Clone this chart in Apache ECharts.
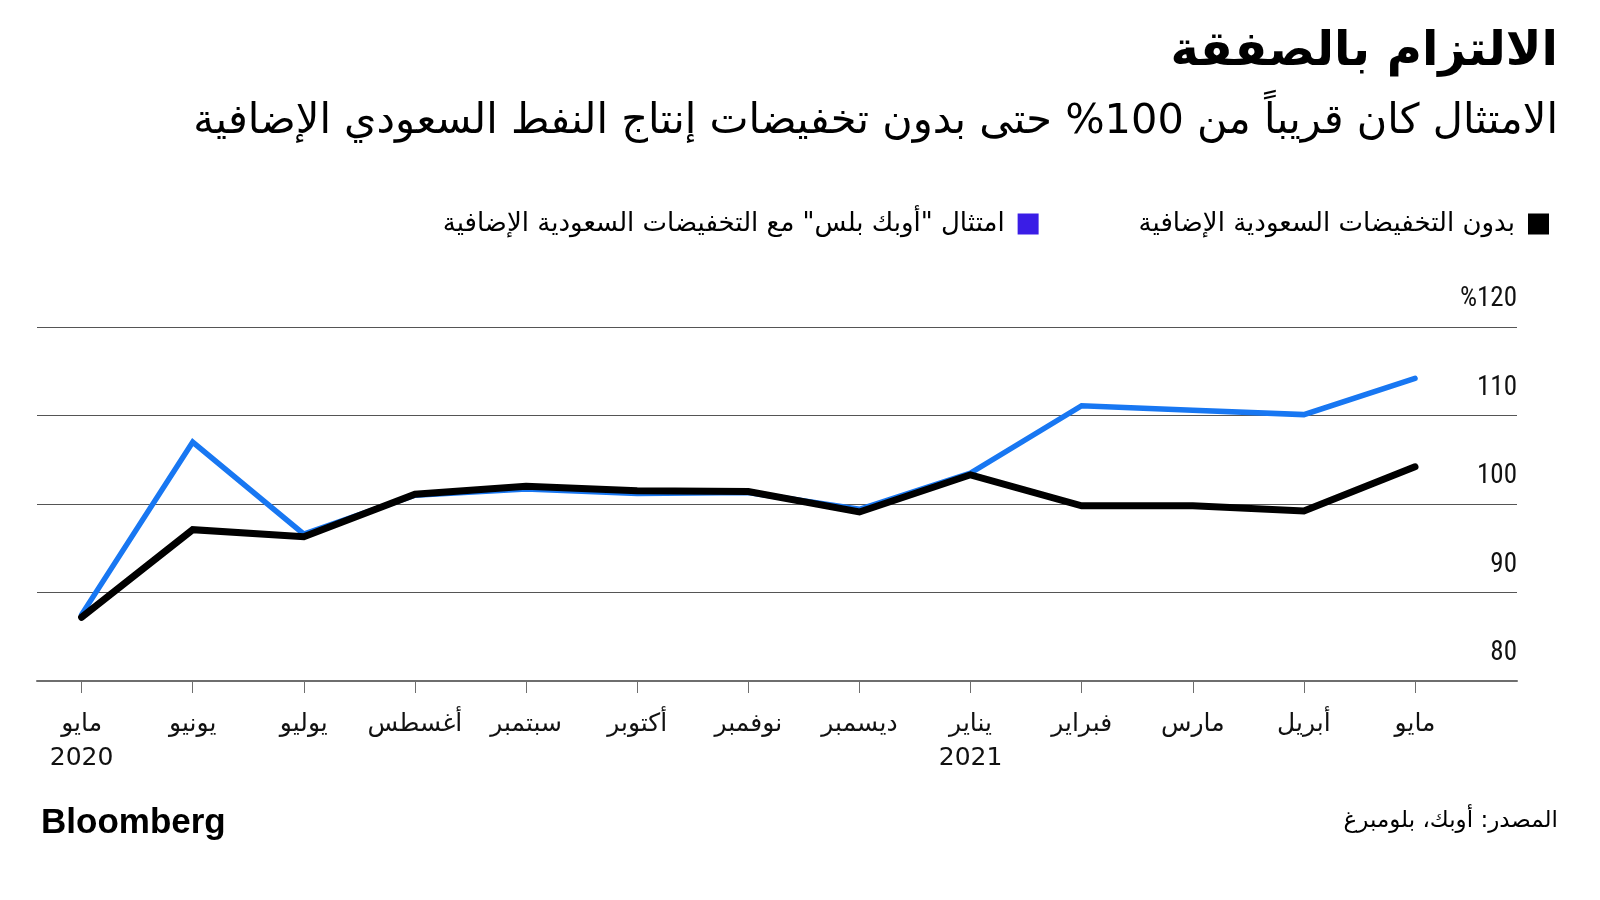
<!DOCTYPE html>
<html>
<head>
<meta charset="utf-8">
<script src="https://cdn.jsdelivr.net/npm/echarts@6/dist/echarts.min.js"></script>
<style>
  html, body { margin: 0; padding: 0; background: #fff; }
  #chart { width: 1600px; height: 900px; direction: rtl; }
</style>
</head>
<body>
<div id="chart"></div>
<script>
// ---- data ----
const months = ['مايو\n2020', 'يونيو', 'يوليو', 'أغسطس', 'سبتمبر', 'أكتوبر', 'نوفمبر', 'ديسمبر', 'يناير\n2021', 'فبراير', 'مارس', 'أبريل', 'مايو'];
const withoutSaudi = [87.2, 97.1, 96.3, 101.1, 102.0, 101.5, 101.4, 99.1, 103.3, 99.8, 99.8, 99.2, 104.2];
const withSaudi = [87.5, 107.0, 96.6, 101.0, 101.7, 101.2, 101.3, 99.4, 103.5, 111.1, 110.6, 110.1, 114.2];
const yTicks = [80, 90, 100, 110, 120];
const nameWithout = 'بدون التخفيضات السعودية الإضافية';
const nameWith = 'امتثال "أوبك بلس" مع التخفيضات السعودية الإضافية';
const titleText = 'الالتزام بالصفقة';
const subtitleText = 'الامتثال كان قريباً من 100% حتى بدون تخفيضات إنتاج النفط السعودي الإضافية';
const sourceText = 'المصدر: أوبك، بلومبرغ';

const arabicFont = '"DejaVu Sans", sans-serif';
const numFont = '"Liberation Sans Narrow", "Roboto Condensed", "Liberation Sans", sans-serif';

const chart = echarts.init(document.getElementById('chart'), null, { renderer: 'canvas' });

const gridTop = 327, gridBottom = 219;

chart.setOption({
  backgroundColor: '#fff',
  animation: false,
  title: [
    {
      text: titleText, right: 37, top: 24,
      textStyle: { fontFamily: arabicFont, fontSize: 48, fontWeight: 'bold', color: '#000' }
    },
    {
      text: subtitleText, right: 37, top: 96,
      textStyle: { fontFamily: arabicFont, fontSize: 41.5, fontWeight: 'normal', color: '#000' }
    },
    {
      text: 'Bloomberg', left: 36, top: 801,
      textStyle: { fontFamily: '"Liberation Sans", Arial, sans-serif', fontSize: 35, fontWeight: 'bold', color: '#000' }
    },
    {
      text: sourceText, right: 37, top: 805,
      textStyle: { fontFamily: arabicFont, fontSize: 23, fontWeight: 'normal', color: '#000' }
    }
  ],
  legend: {
    right: 46, top: 206,
    itemWidth: 21, itemHeight: 21, itemGap: 100,
    icon: 'rect',
    align: 'right',
    textStyle: { fontFamily: arabicFont, fontSize: 26, color: '#000', padding: [0, 8, 0, 0] },
    data: [
      { name: nameWith, itemStyle: { color: '#3A1DE6' } },
      { name: nameWithout, itemStyle: { color: '#000000' } }
    ]
  },
  grid: [
    { left: 37, right: 83, top: gridTop, bottom: gridBottom, containLabel: false },
    { left: 81.6, right: 185, top: gridTop, bottom: gridBottom, containLabel: false }
  ],
  xAxis: [
    {
      gridIndex: 0, type: 'value', min: 0, max: 1,
      axisLine: { show: true, lineStyle: { color: '#6e6e6e', width: 2 } },
      axisTick: { show: false }, axisLabel: { show: false }, splitLine: { show: false }
    },
    {
      gridIndex: 1, type: 'category', data: months, boundaryGap: false,
      axisLine: { show: false },
      axisTick: { show: true, length: 12, inside: false, lineStyle: { color: '#6e6e6e', width: 1 } },
      axisLabel: {
        show: true, interval: 0, margin: 26,
        fontFamily: arabicFont, fontSize: 25, color: '#111', lineHeight: 34, align: 'center'
      },
      splitLine: { show: false }
    }
  ],
  yAxis: [
    {
      gridIndex: 0, type: 'value', position: 'right', min: 80, max: 120, interval: 10,
      axisLine: { show: false }, axisTick: { show: false },
      axisLabel: {
        show: true, inside: true, margin: 0, align: 'right', verticalAlign: 'bottom',
        padding: [0, 0, 14, 0],
        fontFamily: numFont, fontSize: 27, color: '#111',
        formatter: v => (v === yTicks[yTicks.length - 1] ? '%' + v : String(v))
      },
      splitLine: { show: true, lineStyle: { color: '#555', width: 1 } }
    },
    {
      gridIndex: 1, type: 'value', min: 80, max: 120, interval: 10, show: false,
      splitLine: { show: false }
    }
  ],
  series: [
    {
      name: nameWith, type: 'line', xAxisIndex: 1, yAxisIndex: 1,
      data: withSaudi, symbol: 'none', color: '#1877F2',
      lineStyle: { color: '#1877F2', width: 5.5, cap: 'round', join: 'miter' },
      z: 3
    },
    {
      name: nameWithout, type: 'line', xAxisIndex: 1, yAxisIndex: 1,
      data: withoutSaudi, symbol: 'none', color: '#000',
      lineStyle: { color: '#000', width: 7, cap: 'round', join: 'miter' },
      z: 4
    }
  ]
});
</script>
</body>
</html>
